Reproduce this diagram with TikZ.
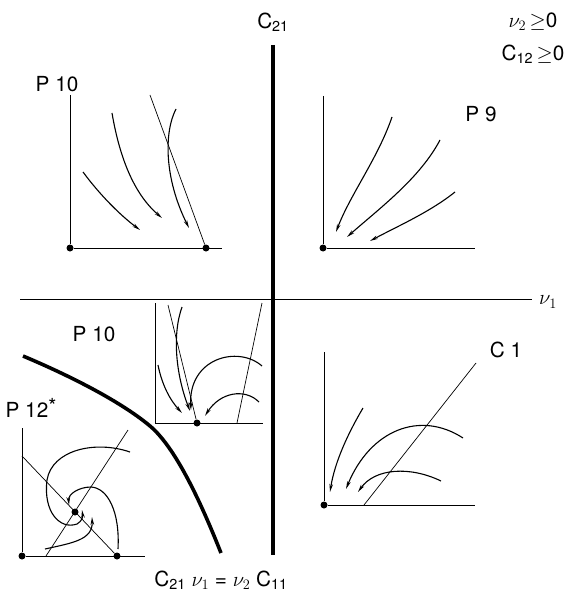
\documentclass[tikz,border=0pt]{standalone}
\usepackage{fontspec}
\setmainfont{TeX Gyre Heros}
\usetikzlibrary{arrows.meta}
\begin{document}
\begin{tikzpicture}[x=1pt, y=-1pt,
    dot/.style={circle, fill, inner sep=0pt, minimum size=7pt},
    flow/.style={line width=1.1pt, -{Stealth[length=8pt,width=3.6pt]}},
    axis/.style={line width=1pt},
    iso/.style={line width=0.7pt},
    every node/.style={font=\huge}]
    \useasboundingbox (0,0) rectangle (575,596);
    % main axes
    \coordinate (v1a) at (20,299);
    \coordinate (v1b) at (532,299);
    \draw[line width=0.9pt] (v1a) -- (v1b);
    \node (nu1) at (548,302) {$\nu_1$};
    \coordinate (c21a) at (273,45);
    \coordinate (c21b) at (273,555);
    \draw[line width=3.6pt] (c21a) -- (c21b);
    \node (c21) at (273,22) {C\textsubscript{21}};
    \node (cnu) at (533,22) {$\nu_2$\,$\geq$0};
    \node (ccc) at (533,54) {C\textsubscript{12}\,$\geq$0};
    \coordinate (ka) at (23,356);
    \coordinate (kb) at (221,553);
    \draw[line width=3.6pt] (ka) .. controls (80,380) and (125,405) .. (150,426)
        .. controls (175,447) and (200,500) .. (kb);
    \node (law) at (221,580) {C\textsubscript{21} $\nu_1$ = $\nu_2$ C\textsubscript{11}};
    % top left: P 10
    \node (p10a) at (57,84) {P 10};
    \node[dot] (ta) at (70,248) {};
    \node[dot] (tb) at (206,248) {};
    \coordinate (ty) at (70,95);
    \coordinate (tx) at (222,248);
    \draw[axis] (ty) -- (ta) -- (tx);
    \coordinate (tl) at (150,95);
    \draw[iso] (tl) -- (tb);
    \draw[flow] (83,172) .. controls (100,195) and (120,215) .. (140,230);
    \draw[flow] (112,113) .. controls (120,160) and (135,195) .. (162,218);
    \draw[flow] (176,109) .. controls (164,132) and (164,178) .. (189,228);
    % top right: P 9
    \node (p9) at (481,114) {P 9};
    \node[dot] (ra) at (323,248) {};
    \coordinate (ry) at (323,96);
    \coordinate (rx) at (475,248);
    \draw[axis] (ry) -- (ra) -- (rx);
    \draw[flow] (392,117) .. controls (378,158) and (350,195) .. (336,232);
    \draw[flow] (440,140) .. controls (420,178) and (380,208) .. (347,237);
    \draw[flow] (455,192) .. controls (430,212) and (398,226) .. (370,241);
    % middle: P 10
    \node (p10b) at (94,334) {P 10};
    \node[dot] (ma) at (197,423) {};
    \coordinate (my) at (155,303);
    \coordinate (mo) at (155,423);
    \coordinate (mx) at (263,423);
    \draw[axis] (my) -- (mo) -- (mx);
    \coordinate (ml) at (168,305);
    \draw[iso] (ml) -- (ma);
    \coordinate (mr) at (262,303);
    \coordinate (mrb) at (237,423);
    \draw[iso] (mr) -- (mrb);
    \draw[flow] (182,307) .. controls (172,335) and (176,375) .. (190,411);
    \draw[flow] (158,365) .. controls (162,385) and (170,400) .. (182,413);
    \draw[flow] (262,366) .. controls (238,345) and (188,358) .. (191,410);
    \draw[flow] (259,402) .. controls (245,388) and (220,392) .. (205,416);
    % bottom left: P 12*
    \node (p12) at (31,408) {P 12\raisebox{4pt}{*}};
    \node[dot] (la) at (22,556) {};
    \node[dot] (lb) at (117,556) {};
    \node[dot] (lc) at (75,512) {};
    \coordinate (ly) at (22,428);
    \coordinate (lx) at (145,556);
    \draw[axis] (ly) -- (la) -- (lx);
    \coordinate (ld) at (22,456);
    \draw[iso] (ld) -- (lb);
    \coordinate (lu) at (128,430);
    \coordinate (lub) at (46,556);
    \draw[iso] (lu) -- (lub);
    \draw[flow] (130,452) .. controls (95,440) and (52,450) .. (47,480)
        .. controls (43,512) and (60,530) .. (77,524) .. controls (82,521) and (83,517) .. (82,510);
    \draw[flow] (118,549) .. controls (120,512) and (108,488) .. (91,487)
        .. controls (79,487) and (68,494) .. (69,505);
    \draw[flow] (45,549) .. controls (72,543) and (93,540) .. (92,517);
    % bottom right: C 1
    \node (c1) at (506,350) {C 1};
    \node[dot] (ba) at (324,505) {};
    \coordinate (by) at (324,352);
    \coordinate (bx) at (475,505);
    \draw[axis] (by) -- (ba) -- (bx);
    \coordinate (bl) at (476,363);
    \coordinate (blb) at (364,505);
    \draw[iso] (bl) -- (blb);
    \draw[flow] (363,408) .. controls (350,430) and (335,460) .. (330,492);
    \draw[flow] (463,438) .. controls (420,410) and (370,430) .. (346,489);
    \draw[flow] (441,481) .. controls (410,466) and (375,468) .. (358,492);
\end{tikzpicture}
\end{document}
